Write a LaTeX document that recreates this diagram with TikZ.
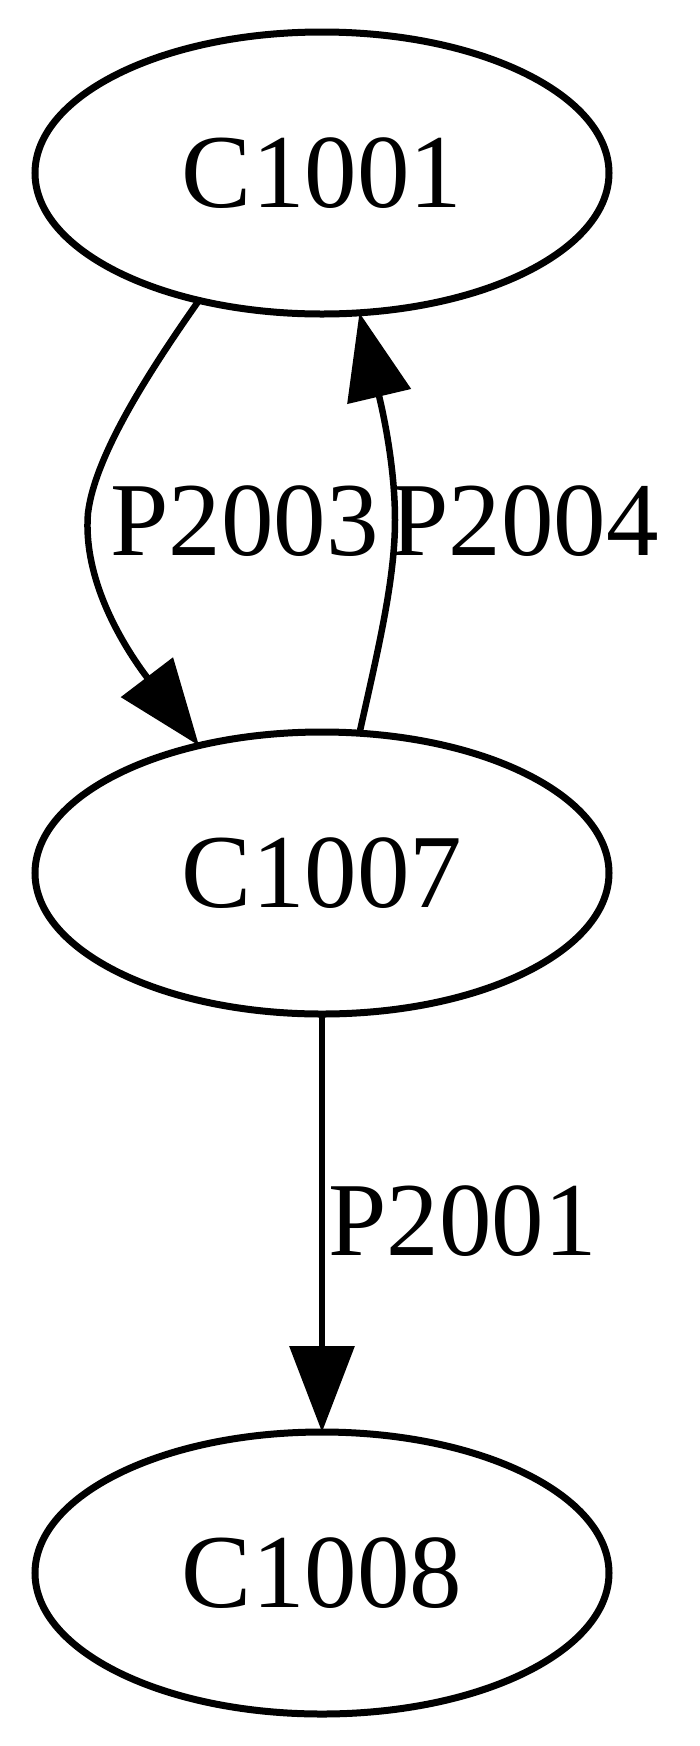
\documentclass[tikz,border=0pt]{standalone}
\usepackage{fontspec}
\setmainfont{Liberation Serif}
\usetikzlibrary{shapes.geometric,arrows.meta}
\tikzset{
  gnode/.style={ellipse,draw,line width=7pt,minimum width=574pt,minimum height=282pt,
    inner sep=0pt,outer sep=0pt,font=\fontsize{105}{126}\selectfont},
  gedge/.style={line width=6.5pt,-{Triangle[length=86pt,width=64pt]}},
  glabel/.style={font=\fontsize{105}{126}\selectfont,inner sep=0pt,anchor=base west}
}
\begin{document}
\begin{tikzpicture}[x=1pt,y=-1pt]
\useasboundingbox (0,0) rectangle (700,1746);
\node[gnode] (c1001) at (322,173) {C1001};
\node[gnode] (c1007) at (322,873) {C1007};
\node[gnode] (c1008) at (322,1573) {C1008};
\draw[gedge] (c1001.226) .. controls (150,370) and (95,455) .. (88,513)
  .. controls (82,585) and (130,655) .. (c1007.134);
\draw[gedge] (c1007.75) .. controls (378,650) and (395,580) .. (395,520)
  .. controls (395,460) and (380,400) .. (c1001.285);
\draw[gedge] (c1007.south) -- (c1008.north);
\node[glabel] (l2003) at (110,555) {P2003};
\node[glabel] (l2004) at (390,555) {P2004};
\node[glabel] (l2001) at (328,1255) {P2001};
\end{tikzpicture}
\end{document}
